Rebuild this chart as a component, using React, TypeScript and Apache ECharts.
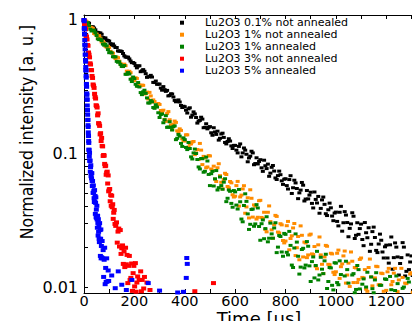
import React, { useEffect, useRef } from 'react';
import * as echarts from 'echarts';

const seriesNames = [
  'Lu2O3 0.1% not annealed',
  'Lu2O3 1% not annealed',
  'Lu2O3 1% annealed',
  'Lu2O3 3% not annealed',
  'Lu2O3 5% annealed',
];

const xTitle = 'Time [µs]';
const yTitle = 'Normalized intensity [a. u.]';

const slowTimes = [
  0, 10, 20, 30, 40, 50, 60, 70, 80, 90, 100, 110, 120, 130, 140, 150, 160, 170, 180, 190,
  200, 210, 220, 230, 240, 250, 260, 270, 280, 290, 300, 310, 320, 330, 340, 350, 360, 370, 380, 390,
  400, 410, 420, 430, 440, 450, 460, 470, 480, 490, 500, 510, 520, 530, 540, 550, 560, 570, 580, 590,
  600, 610, 620, 630, 640, 650, 660, 670, 680, 690, 700, 710, 720, 730, 740, 750, 760, 770, 780, 790,
  800, 810, 820, 830, 840, 850, 860, 870, 880, 890, 900, 910, 920, 930, 940, 950, 960, 970, 980, 990,
  1000, 1010, 1020, 1030, 1040, 1050, 1060, 1070, 1080, 1090, 1100, 1110, 1120, 1130, 1140, 1150, 1160, 1170, 1180, 1190,
  1200, 1210, 1220, 1230, 1240, 1250, 1260, 1270, 1280, 1290, 1300, 1310, 1320, 1330,
];

const midTimes = [
  5, 15, 25, 35, 45, 55, 65, 75, 85, 95, 105, 115, 125, 135, 145, 155, 165, 175, 185, 195,
  205, 215, 225, 235, 245, 255, 265, 275, 285, 295, 305, 315, 325, 335, 345, 355, 365, 375, 385, 395,
  405, 415, 425, 435, 445, 455, 465, 475, 485, 495, 505, 515, 525, 535, 545, 555, 565, 575, 585, 595,
  605, 615, 625, 635, 645, 655, 665, 675, 685, 695, 705, 715, 725, 735, 745, 755, 765, 775, 785, 795,
  805, 815, 825, 835, 845, 855, 865, 875, 885, 895, 905, 915, 925, 935, 945, 955, 965, 975, 985, 995,
  1005, 1015, 1025, 1035, 1045, 1055, 1065, 1075, 1085, 1095, 1105, 1115, 1125, 1135, 1145, 1155, 1165, 1175, 1185, 1195,
  1205, 1215, 1225, 1235, 1245, 1255, 1265, 1275, 1285, 1295, 1305, 1315, 1325,
];

const blackValues = [
  1.0, 0.947, 0.946, 0.889, 0.870, 0.809, 0.799, 0.782, 0.731, 0.707,
  0.695, 0.646, 0.639, 0.622, 0.584, 0.581, 0.539, 0.526, 0.511, 0.479,
  0.473, 0.438, 0.454, 0.416, 0.413, 0.372, 0.376, 0.374, 0.340, 0.330,
  0.331, 0.298, 0.301, 0.297, 0.272, 0.279, 0.250, 0.247, 0.243, 0.221,
  0.224, 0.201, 0.220, 0.194, 0.198, 0.169, 0.177, 0.181, 0.157, 0.153,
  0.159, 0.137, 0.145, 0.147, 0.130, 0.142, 0.121, 0.123, 0.124, 0.109,
  0.115, 0.101, 0.118, 0.101, 0.106, 0.0867, 0.0955, 0.101, 0.0841, 0.0835,
  0.0899, 0.0735, 0.0810, 0.0833, 0.0713, 0.0813, 0.0656, 0.0683, 0.0694, 0.0587,
  0.0647, 0.0542, 0.0682, 0.0554, 0.0602, 0.0459, 0.0532, 0.0579, 0.0456, 0.0457,
  0.0513, 0.0391, 0.0453, 0.0477, 0.0388, 0.0472, 0.0354, 0.0379, 0.0392, 0.0314,
  0.0364, 0.0287, 0.0402, 0.0303, 0.0346, 0.0238, 0.0297, 0.0339, 0.0244, 0.0248,
  0.0296, 0.0204, 0.0255, 0.0278, 0.0209, 0.0281, 0.0188, 0.0210, 0.0224, 0.0165,
  0.0206, 0.0151, 0.0237, 0.0166, 0.0199, 0.0123, 0.0166, 0.0199, 0.0131, 0.0135,
  0.0171, 0.0106, 0.0143, 0.0162,
];

const blackMidValues = [
  0.968, 0.954, 0.891, 0.890, 0.844, 0.807, 0.800, 0.740, 0.734, 0.702,
  0.665, 0.661, 0.622, 0.587, 0.586, 0.561, 0.528, 0.527, 0.493, 0.480,
  0.455, 0.452, 0.410, 0.425, 0.396, 0.376, 0.385, 0.341, 0.349, 0.331,
  0.309, 0.317, 0.292, 0.270, 0.280, 0.265, 0.244, 0.252, 0.229, 0.226,
  0.211, 0.216, 0.187, 0.205, 0.186, 0.175, 0.187, 0.156, 0.167, 0.157,
  0.143, 0.156, 0.139, 0.126, 0.140, 0.132, 0.118, 0.129, 0.114, 0.115,
  0.106, 0.113, 0.0944, 0.110, 0.0987, 0.0926, 0.104, 0.0824, 0.0929, 0.0872,
  0.0781, 0.0891, 0.0771, 0.0675, 0.0788, 0.0739, 0.0639, 0.0738, 0.0624, 0.0642,
  0.0575, 0.0638, 0.0502, 0.0631, 0.0547, 0.0507, 0.0607, 0.0441, 0.0528, 0.0488,
  0.0423, 0.0515, 0.0426, 0.0357, 0.0449, 0.0416, 0.0343, 0.0425, 0.0340, 0.0358,
  0.0310, 0.0363, 0.0262, 0.0367, 0.0304, 0.0275, 0.0360, 0.0231, 0.0303, 0.0274,
  0.0227, 0.0304, 0.0234, 0.0185, 0.0260, 0.0235, 0.0181, 0.0249, 0.0183, 0.0200,
  0.0165, 0.0207, 0.0136, 0.0214, 0.0168, 0.0150, 0.0215, 0.0121, 0.0174, 0.0154,
  0.0122, 0.0179, 0.0129,
];

const orangeValues = [
  0.983, 0.977, 0.901, 0.877, 0.792, 0.784, 0.764, 0.685, 0.671, 0.625,
  0.622, 0.569, 0.530, 0.527, 0.492, 0.452, 0.467, 0.414, 0.413, 0.366,
  0.351, 0.365, 0.326, 0.325, 0.279, 0.288, 0.287, 0.243, 0.245, 0.224,
  0.233, 0.203, 0.180, 0.199, 0.179, 0.151, 0.175, 0.148, 0.153, 0.129,
  0.124, 0.138, 0.118, 0.122, 0.0980, 0.107, 0.119, 0.0826, 0.0929, 0.0793,
  0.0959, 0.0750, 0.0643, 0.0782, 0.0682, 0.0543, 0.0711, 0.0566, 0.0617, 0.0491,
  0.0479, 0.0618, 0.0473, 0.0543, 0.0357, 0.0466, 0.0535, 0.0334, 0.0404, 0.0333,
  0.0446, 0.0326, 0.0270, 0.0363, 0.0309, 0.0232, 0.0344, 0.0258, 0.0298, 0.0223,
  0.0221, 0.0310, 0.0231, 0.0277, 0.0172, 0.0239, 0.0287, 0.0168, 0.0214, 0.0174,
  0.0249, 0.0175, 0.0143, 0.0207, 0.0174, 0.0126, 0.0205, 0.0148, 0.0179, 0.0129,
  0.0130, 0.0189, 0.0142, 0.0171, 0.0107, 0.0151, 0.0183, 0.0108, 0.0139, 0.0114,
  0.0165, 0.0117, 0.00964, 0.0140, 0.0119, 0.00871, 0.0143, 0.0104, 0.0127, 0.00929,
  0.00944, 0.0138, 0.0104, 0.0127, 0.00800, 0.0113, 0.0138, 0.00820, 0.0106, 0.00877,
  0.0128, 0.00910, 0.00752, 0.0110,
];

const orangeMidValues = [
  0.995, 0.902, 0.884, 0.864, 0.785, 0.731, 0.732, 0.689, 0.637, 0.635,
  0.583, 0.564, 0.514, 0.522, 0.472, 0.456, 0.455, 0.404, 0.403, 0.355,
  0.369, 0.318, 0.322, 0.324, 0.281, 0.256, 0.270, 0.252, 0.226, 0.237,
  0.210, 0.211, 0.174, 0.206, 0.164, 0.166, 0.171, 0.145, 0.149, 0.125,
  0.138, 0.112, 0.118, 0.123, 0.101, 0.0901, 0.106, 0.0952, 0.0782, 0.0965,
  0.0766, 0.0804, 0.0617, 0.0838, 0.0609, 0.0639, 0.0696, 0.0554, 0.0603, 0.0472,
  0.0575, 0.0404, 0.0488, 0.0574, 0.0398, 0.0329, 0.0462, 0.0412, 0.0323, 0.0443,
  0.0332, 0.0363, 0.0259, 0.0405, 0.0268, 0.0293, 0.0338, 0.0254, 0.0292, 0.0214,
  0.0288, 0.0190, 0.0242, 0.0299, 0.0197, 0.0160, 0.0244, 0.0217, 0.0166, 0.0245,
  0.0177, 0.0201, 0.0137, 0.0237, 0.0148, 0.0168, 0.0202, 0.0147, 0.0177, 0.0124,
  0.0179, 0.0116, 0.0149, 0.0186, 0.0123, 0.0101, 0.0156, 0.0140, 0.0108, 0.0161,
  0.0118, 0.0135, 0.00929, 0.0162, 0.0102, 0.0117, 0.0142, 0.0104, 0.0126, 0.00895,
  0.0130, 0.00848, 0.0110, 0.0138, 0.00924, 0.00763, 0.0118, 0.0107, 0.00831, 0.0125,
  0.00915, 0.0105, 0.00725,
];

const greenValues = [
  1.0, 0.935, 0.906, 0.827, 0.838, 0.765, 0.713, 0.702, 0.648, 0.638,
  0.569, 0.566, 0.530, 0.490, 0.486, 0.449, 0.456, 0.393, 0.394, 0.346,
  0.364, 0.319, 0.315, 0.276, 0.298, 0.261, 0.239, 0.244, 0.218, 0.223,
  0.186, 0.198, 0.179, 0.157, 0.173, 0.150, 0.161, 0.130, 0.135, 0.113,
  0.127, 0.107, 0.109, 0.0910, 0.108, 0.0902, 0.0766, 0.0914, 0.0736, 0.0879,
  0.0575, 0.0735, 0.0646, 0.0533, 0.0667, 0.0540, 0.0647, 0.0462, 0.0521, 0.0396,
  0.0516, 0.0384, 0.0435, 0.0308, 0.0499, 0.0353, 0.0295, 0.0384, 0.0297, 0.0391,
  0.0224, 0.0318, 0.0274, 0.0218, 0.0301, 0.0232, 0.0303, 0.0199, 0.0239, 0.0170,
  0.0248, 0.0174, 0.0205, 0.0140, 0.0250, 0.0170, 0.0141, 0.0195, 0.0146, 0.0202,
  0.0110, 0.0168, 0.0145, 0.0113, 0.0167, 0.0126, 0.0176, 0.0110, 0.0139, 0.00951,
  0.0151, 0.0104, 0.0124, 0.00857, 0.0156, 0.0107, 0.00899, 0.0126, 0.00959, 0.0135,
  0.00741, 0.0115, 0.0100, 0.00789, 0.0119, 0.00906, 0.0128, 0.00804, 0.0103, 0.00713,
  0.0114, 0.00794, 0.00955, 0.00664, 0.0121, 0.00843, 0.00711, 0.0100, 0.00769, 0.0109,
  0.00603, 0.00938, 0.00817, 0.00646,
];

const greenMidValues = [
  0.964, 0.953, 0.852, 0.837, 0.804, 0.722, 0.719, 0.661, 0.660, 0.600,
  0.575, 0.531, 0.530, 0.483, 0.464, 0.448, 0.392, 0.404, 0.360, 0.374,
  0.330, 0.340, 0.286, 0.290, 0.282, 0.239, 0.249, 0.221, 0.232, 0.202,
  0.196, 0.170, 0.192, 0.158, 0.157, 0.159, 0.127, 0.139, 0.119, 0.131,
  0.111, 0.121, 0.0944, 0.101, 0.100, 0.0793, 0.0918, 0.0724, 0.0940, 0.0697,
  0.0706, 0.0571, 0.0745, 0.0555, 0.0575, 0.0610, 0.0436, 0.0533, 0.0423, 0.0528,
  0.0411, 0.0538, 0.0323, 0.0408, 0.0438, 0.0270, 0.0381, 0.0285, 0.0414, 0.0284,
  0.0298, 0.0230, 0.0336, 0.0232, 0.0250, 0.0277, 0.0181, 0.0243, 0.0183, 0.0252,
  0.0182, 0.0261, 0.0146, 0.0196, 0.0217, 0.0125, 0.0191, 0.0139, 0.0219, 0.0144,
  0.0155, 0.0117, 0.0185, 0.0123, 0.0136, 0.0157, 0.00975, 0.0140, 0.0103, 0.0152,
  0.0108, 0.0157, 0.00892, 0.0121, 0.0135, 0.00797, 0.0123, 0.00907, 0.0145, 0.00967,
  0.0105, 0.00803, 0.0129, 0.00864, 0.00972, 0.0113, 0.00710, 0.0103, 0.00765, 0.0115,
  0.00824, 0.0120, 0.00689, 0.00942, 0.0106, 0.00628, 0.00977, 0.00724, 0.0116, 0.00783,
  0.00855, 0.00655, 0.0105,
];

const redTimes = [
  0, 2, 4, 6, 8, 10, 12, 14, 16, 18, 20, 22, 24, 26, 28, 30, 32, 34, 36, 38,
  40, 42, 44, 46, 48, 50, 52, 54, 56, 58, 60, 62, 64, 66, 68, 70, 72, 74, 76, 78,
  80, 82, 84, 86, 88, 90, 92, 94, 96, 98, 100, 102, 104, 106, 108, 110, 112, 114, 116, 118,
  120, 123, 126, 129, 132, 135, 138, 141, 144, 147, 150, 153, 156, 159, 162, 165, 168, 171, 174, 177,
  180, 183, 186, 189, 192, 195, 198, 201, 204, 207, 210, 213, 216, 219, 222, 225, 228, 231, 234, 237,
  240, 250, 262, 440, 514,
];

const redValues = [
  1.0, 0.926, 0.878, 0.853, 0.763, 0.746, 0.715, 0.649, 0.641, 0.571,
  0.550, 0.525, 0.474, 0.464, 0.422, 0.420, 0.381, 0.368, 0.329, 0.322,
  0.310, 0.280, 0.265, 0.258, 0.230, 0.227, 0.221, 0.193, 0.200, 0.169,
  0.166, 0.161, 0.139, 0.142, 0.124, 0.131, 0.114, 0.113, 0.0959, 0.0975,
  0.0964, 0.0836, 0.0804, 0.0811, 0.0693, 0.0719, 0.0731, 0.0596, 0.0685, 0.0521,
  0.0537, 0.0542, 0.0439, 0.0488, 0.0406, 0.0483, 0.0396, 0.0417, 0.0324, 0.0360,
  0.0378, 0.0297, 0.0287, 0.0305, 0.0215, 0.0260, 0.0274, 0.0201, 0.0267, 0.0177,
  0.0195, 0.0205, 0.0149, 0.0185, 0.0141, 0.0197, 0.0148, 0.0174, 0.0107, 0.0144,
  0.0171, 0.0113, 0.0117, 0.0150, 0.00935, 0.0127, 0.0144, 0.0101, 0.0151, 0.00922,
  0.0108, 0.0120, 0.00824, 0.0113, 0.00822, 0.0131, 0.00929, 0.0113, 0.00711, 0.00975,
  0.0119, 0.0108, 0.0095, 0.0093, 0.0107,
];

const blueTimes = [
  0, 0.5, 1, 1.5, 2, 2.5, 3, 3.5, 4, 4.5, 5, 5.5, 6, 6.5, 7, 7.5, 8, 8.5, 9, 9.5,
  10, 10.5, 11, 11.5, 12, 12.5, 13, 13.5, 14, 14.5, 15, 15.5, 16, 16.5, 17, 17.5, 18, 18.5, 19, 19.5,
  20, 21, 22, 23, 24, 25, 26, 27, 28, 29, 30, 31, 32, 33, 34, 35, 36, 37, 38, 39,
  40, 41, 42, 43, 44, 45, 46, 47, 48, 49, 50, 51, 52, 53, 54, 55, 56, 57, 58, 59,
  60, 61, 62, 63, 64, 65, 66, 67, 68, 69, 70, 72, 74, 76, 78, 80, 82, 84, 86, 88,
  90, 92, 94, 96, 98, 100, 110, 124, 136, 150, 168, 190, 255, 300, 372, 395, 406, 408, 410,
];

const blueValues = [
  1.0, 0.978, 0.872, 0.850, 0.787, 0.778, 0.708, 0.655, 0.648, 0.602,
  0.550, 0.551, 0.503, 0.487, 0.445, 0.422, 0.417, 0.382, 0.370, 0.332,
  0.327, 0.316, 0.282, 0.275, 0.255, 0.252, 0.229, 0.212, 0.210, 0.195,
  0.178, 0.179, 0.163, 0.158, 0.144, 0.136, 0.135, 0.124, 0.120, 0.107,
  0.106, 0.0946, 0.101, 0.0879, 0.0887, 0.0731, 0.0791, 0.0817, 0.0676, 0.0711,
  0.0652, 0.0712, 0.0622, 0.0570, 0.0623, 0.0575, 0.0508, 0.0576, 0.0507, 0.0525,
  0.0463, 0.0433, 0.0532, 0.0437, 0.0481, 0.0353, 0.0427, 0.0470, 0.0333, 0.0380,
  0.0330, 0.0406, 0.0321, 0.0278, 0.0342, 0.0302, 0.0243, 0.0322, 0.0259, 0.0286,
  0.0230, 0.0217, 0.0301, 0.0227, 0.0267, 0.0171, 0.0230, 0.0270, 0.0164, 0.0203,
  0.0167, 0.0221, 0.0164, 0.0189, 0.0119, 0.0160, 0.0197, 0.0105, 0.0139, 0.0109,
  0.0164, 0.0110, 0.00871, 0.0133, 0.0111, 0.00759, 0.0122, 0.0098, 0.0131, 0.0104,
  0.0095, 0.0113, 0.0107, 0.0094, 0.0091, 0.0092, 0.0117, 0.0165, 0.0149,
];

const yTickValues = [
  0.01, 0.02, 0.03, 0.04, 0.05, 0.06, 0.07, 0.08, 0.09,
  0.1, 0.2, 0.3, 0.4, 0.5, 0.6, 0.7, 0.8, 0.9, 1,
];

const seriesColors = ['#000000', '#ff8c00', '#008000', '#ff0000', '#0000ff'];

function pairUp(times: number[], values: number[]) {
  return times.map((t, i) => [t, values[i]]);
}

const tickFont = 'DejaVu Sans';

function yLabel(v: number) {
  const l = Math.log10(v);
  const r = Math.round(l);
  if (Math.abs(l - r) > 1e-6) return '';
  return r === 0 ? '1' : String(Number(Math.pow(10, r).toPrecision(1)));
}

export default function App() {
  const ref = useRef<HTMLDivElement>(null);
  useEffect(() => {
    if (!ref.current) return;
    const chart = echarts.init(ref.current, undefined, { renderer: 'svg' });
    const seriesData = [
      pairUp(slowTimes, blackValues).concat(pairUp(midTimes, blackMidValues)),
      pairUp(slowTimes, orangeValues).concat(pairUp(midTimes, orangeMidValues)),
      pairUp(slowTimes, greenValues).concat(pairUp(midTimes, greenMidValues)),
      pairUp(redTimes, redValues),
      pairUp(blueTimes, blueValues),
    ];
    const axisLine = { show: true, onZero: false, lineStyle: { color: '#000', width: 1 } };
    chart.setOption({
      animation: false,
      backgroundColor: '#ffffff',
      grid: { left: 84, right: 1, top: 15, bottom: 36, containLabel: false, outerBoundsMode: 'none' },
      legend: {
        orient: 'vertical',
        left: 180,
        top: 16.7,
        itemGap: 0,
        itemWidth: 4,
        itemHeight: 4,
        padding: 0,
        data: seriesNames,
        textStyle: {
          fontFamily: tickFont,
          fontSize: 11,
          color: '#000',
          lineHeight: 12,
          padding: [0, 0, 0, 16],
        },
      },
      xAxis: [
        {
          type: 'value',
          min: 0,
          max: 1330,
          interval: 100,
          position: 'bottom',
          axisLine,
          axisTick: { show: true, inside: true, length: 4, lineStyle: { color: '#000' } },
          axisLabel: {
            formatter: (v: number) => (v % 200 === 0 ? String(v) : ''),
            margin: 1,
            fontFamily: tickFont,
            fontSize: 14.5,
            lineHeight: 14,
            color: '#000',
          },
          splitLine: { show: false },
          name: xTitle,
          nameLocation: 'middle',
          nameGap: 16,
          nameMoveOverlap: false,
          nameTextStyle: {
            fontFamily: tickFont,
            fontSize: 18,
            lineHeight: 18,
            color: '#000',
            padding: [0, 0, 0, 15],
          },
        },
        {
          type: 'value',
          min: 0,
          max: 1330,
          interval: 100,
          position: 'top',
          axisLine,
          axisTick: { show: true, inside: true, length: 4, lineStyle: { color: '#000' } },
          axisLabel: { show: false },
          splitLine: { show: false },
        },
      ],
      yAxis: [
        {
          type: 'log',
          logBase: 10,
          min: 0.00902,
          max: 1.09,
          position: 'left',
          axisLine,
          axisTick: { show: true, inside: true, length: 4, customValues: yTickValues, lineStyle: { color: '#000' } },
          minorTick: { show: false },
          axisLabel: { formatter: yLabel, margin: 6, fontFamily: tickFont, fontSize: 16, color: '#000' },
          splitLine: { show: false },
          name: yTitle,
          nameLocation: 'middle',
          nameRotate: 90,
          nameGap: 48,
          nameMoveOverlap: false,
          nameTextStyle: {
            fontFamily: "'Liberation Sans Narrow', 'DejaVu Sans Condensed', sans-serif",
            fontSize: 17.5,
            color: '#000',
            padding: [0, 0, 0, 44],
          },
        },
        {
          type: 'log',
          logBase: 10,
          min: 0.00902,
          max: 1.09,
          position: 'right',
          axisLine,
          axisTick: { show: true, inside: true, length: 4, customValues: yTickValues, lineStyle: { color: '#000' } },
          axisLabel: { show: false },
          splitLine: { show: false },
        },
      ],
      series: seriesNames.map((name, i) => ({
        type: 'scatter',
        name,
        data: seriesData[i],
        symbol: 'rect',
        symbolSize: i >= 3 ? [5, 4] : [4, 3],
        itemStyle: { color: seriesColors[i], opacity: 1 },
        xAxisIndex: 0,
        yAxisIndex: 0,
        clip: true,
        silent: true,
      })),
    });
    return () => chart.dispose();
  }, []);
  return <div ref={ref} style={{ width: 420, height: 329, margin: -8 }} />;
}
